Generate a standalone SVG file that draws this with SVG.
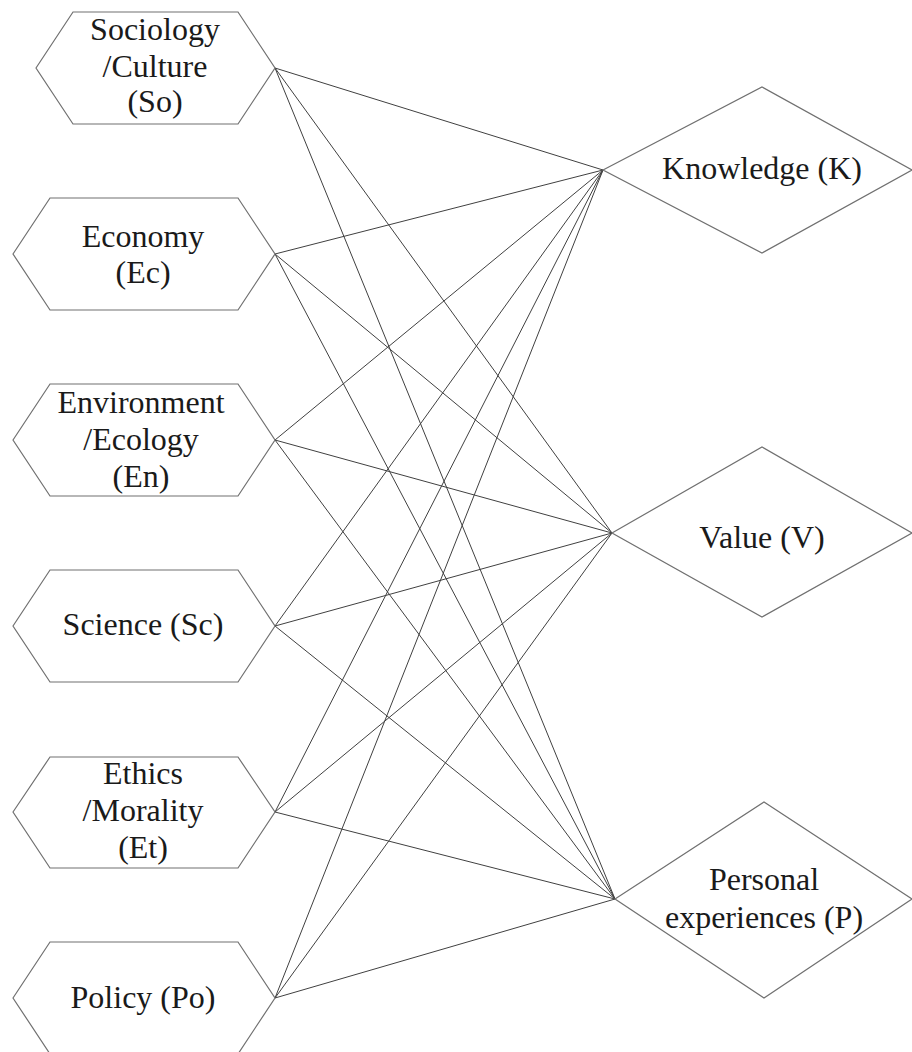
<svg xmlns="http://www.w3.org/2000/svg" width="912" height="1052" viewBox="0 0 912 1052">
  <style>
    .shape { fill: #ffffff; stroke: #707070; stroke-width: 1.2; }
    .link { stroke: #404040; stroke-width: 1; fill: none; }
    .label { font-family: "Liberation Serif", "Times New Roman", serif; font-size: 32px; fill: #1a1a1a; text-anchor: middle; }
  </style>
  <rect width="912" height="1052" fill="#ffffff"/>

  <!-- connectors: every factor to every outcome -->
  <g id="connectors">
    <line class="link" x1="275" y1="68" x2="603" y2="170"/>
    <line class="link" x1="275" y1="68" x2="612" y2="533"/>
    <line class="link" x1="275" y1="68" x2="615" y2="899"/>
    <line class="link" x1="275" y1="254" x2="603" y2="170"/>
    <line class="link" x1="275" y1="254" x2="612" y2="533"/>
    <line class="link" x1="275" y1="254" x2="615" y2="899"/>
    <line class="link" x1="275" y1="440" x2="603" y2="170"/>
    <line class="link" x1="275" y1="440" x2="612" y2="533"/>
    <line class="link" x1="275" y1="440" x2="615" y2="899"/>
    <line class="link" x1="275" y1="626" x2="603" y2="170"/>
    <line class="link" x1="275" y1="626" x2="612" y2="533"/>
    <line class="link" x1="275" y1="626" x2="615" y2="899"/>
    <line class="link" x1="275" y1="812" x2="603" y2="170"/>
    <line class="link" x1="275" y1="812" x2="612" y2="533"/>
    <line class="link" x1="275" y1="812" x2="615" y2="899"/>
    <line class="link" x1="275" y1="998" x2="603" y2="170"/>
    <line class="link" x1="275" y1="998" x2="612" y2="533"/>
    <line class="link" x1="275" y1="998" x2="615" y2="899"/>
  </g>

  <!-- factor hexagons -->
  <g id="node-so">
    <polygon class="shape" points="36,68 73,12 238,12 275,68 238,124 73,124"/>
    <text class="label" x="155" y="40">Sociology</text>
    <text class="label" x="155" y="77">/Culture</text>
    <text class="label" x="155" y="112">(So)</text>
  </g>
  <g id="node-ec">
    <polygon class="shape" points="13,254 50,198 238,198 275,254 238,310 50,310"/>
    <text class="label" x="143" y="247">Economy</text>
    <text class="label" x="143" y="283">(Ec)</text>
  </g>
  <g id="node-en">
    <polygon class="shape" points="13,440 50,384 238,384 275,440 238,496 50,496"/>
    <text class="label" x="141" y="413">Environment</text>
    <text class="label" x="141" y="450">/Ecology</text>
    <text class="label" x="141" y="487">(En)</text>
  </g>
  <g id="node-sc">
    <polygon class="shape" points="13,626 50,570 238,570 275,626 238,682 50,682"/>
    <text class="label" x="143" y="635">Science (Sc)</text>
  </g>
  <g id="node-et">
    <polygon class="shape" points="13,812 50,757 238,757 275,812 238,868 50,868"/>
    <text class="label" x="143" y="784">Ethics</text>
    <text class="label" x="143" y="821">/Morality</text>
    <text class="label" x="143" y="858">(Et)</text>
  </g>
  <g id="node-po">
    <polygon class="shape" points="13,998 50,942 238,942 275,998 238,1054 50,1054"/>
    <text class="label" x="143" y="1008">Policy (Po)</text>
  </g>

  <!-- outcome diamonds -->
  <g id="node-k">
    <polygon class="shape" points="603,170 762,87 912,170 762,253"/>
    <text class="label" x="762" y="179">Knowledge (K)</text>
  </g>
  <g id="node-v">
    <polygon class="shape" points="612,533 762,447 912,533 762,617"/>
    <text class="label" x="762" y="548">Value (V)</text>
  </g>
  <g id="node-p">
    <polygon class="shape" points="615,899 764,802 912,899 764,998"/>
    <text class="label" x="764" y="890">Personal</text>
    <text class="label" x="764" y="928">experiences (P)</text>
  </g>
</svg>
